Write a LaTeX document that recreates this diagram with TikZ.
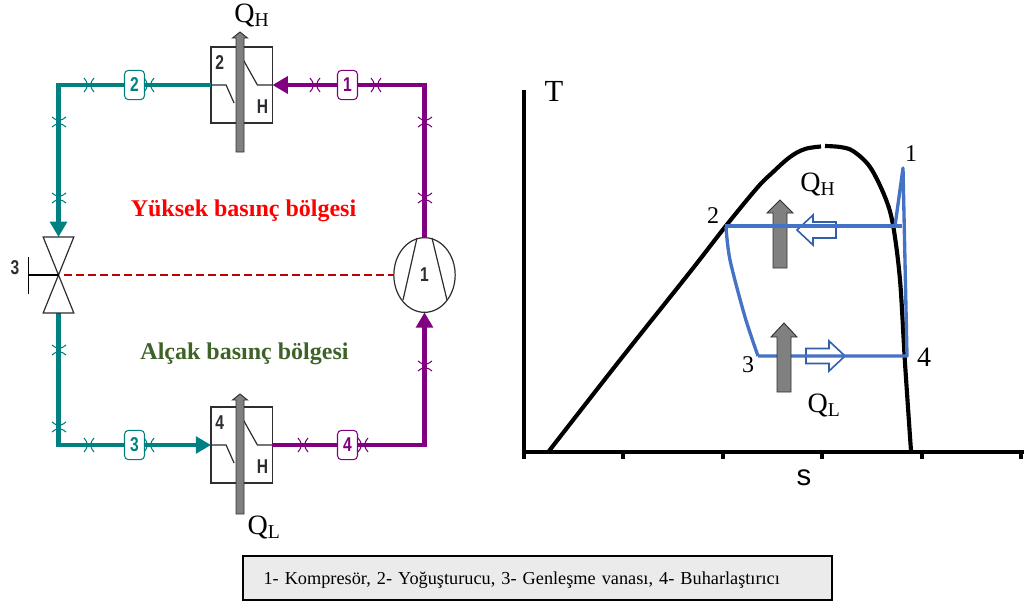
\documentclass[tikz,border=0pt]{standalone}
\usepackage{fontspec}
\setmainfont{Liberation Serif}
\setsansfont{Liberation Sans}
\newfontfamily\schfont[FakeStretch=0.78]{Liberation Sans}
\usetikzlibrary{arrows.meta,positioning,shapes.geometric}
\definecolor{pipeteal}  {RGB}{0,128,128}
\definecolor{pipepurple}{RGB}{128,0,128}
\definecolor{cyclblue}  {RGB}{68,114,196}
\definecolor{hollowblue}{RGB}{50,95,170}
\definecolor{hotred}    {RGB}{255,0,0}
\definecolor{coldgreen} {RGB}{62,98,40}
\definecolor{dashred}   {RGB}{192,0,0}
\definecolor{heatgray}  {RGB}{128,128,128}
\definecolor{heatedge}  {RGB}{50,50,50}
\definecolor{capgray}   {RGB}{235,235,235}
\definecolor{schink}    {RGB}{45,45,50}
\newcommand{\fs}[1]{\fontsize{#1}{#1}\selectfont}
% style, tail, angle, length, head length, half shaft, half head
\newcommand{\fatarr}[7]{%
  \draw[#1,shift={(#2)},rotate=#3] (0,-#6)--({#4-#5},-#6)--({#4-#5},-#7)--(#4,0)
    --({#4-#5},#7)--({#4-#5},#6)--(0,#6)--cycle;}
\tikzset{
  hxbox/.style={draw=schink,fill=white,line width=1pt,outer sep=0pt,inner sep=0pt,
    minimum width=46pt,minimum height=57pt},
  valvebox/.style={outer sep=0pt,inner sep=0pt,minimum width=23pt,minimum height=57pt},
  compbox/.style={draw=schink,fill=white,ellipse,line width=0.9pt,outer sep=0pt,inner sep=0pt,
    minimum width=46pt,minimum height=56pt},
  schlbl/.style={font=\schfont\bfseries\fs{15},text=schink,inner sep=0pt},
  tagbox/.style={draw=#1,fill=white,text=#1,rounded corners=3pt,line width=0.8pt,
    minimum width=15pt,minimum height=22pt,inner sep=0pt,font=\schfont\bfseries\fs{15}},
  pipet/.style={line width=3.7pt,color=pipeteal},
  pipep/.style={line width=3.7pt,color=pipepurple},
  pipearr/.style={-{Triangle[length=11.5pt,width=12.5pt]}},
  thinline/.style={draw=schink,line width=0.9pt},
  regionline/.style={line width=1.4pt,color=dashred,dash pattern=on 6pt off 3pt},
  region/.style={font=\bfseries\fs{18},inner sep=0pt},
  heat/.style={fill=heatgray,draw=heatedge,line width=0.7pt},
  hollow/.style={fill=white,draw=hollowblue,line width=1.2pt},
  qlbl/.style={font=\fs{21},inner sep=0pt},
  numlbl/.style={font=\fs{18},inner sep=0pt},
  domeline/.style={line width=3.1pt,color=black},
  cycline/.style={line width=2.5pt,color=cyclblue,line join=round},
  axisline/.style={line width=3pt,color=black},
  capbox/.style={draw=black,fill=capgray,line width=1.5pt,outer sep=0pt,inner ysep=0pt,
    inner xsep=15.75pt,text width=410.25pt,text height=13pt,text depth=3pt,
    minimum height=33pt,align=left,font=\fs{13.7}},
  pics/pinch/.style={code={
    \draw[line width=0.8pt] (-5,-7) to[out=-60,in=90] (-1.5,0) to[out=-90,in=60] (-5,7);
    \draw[line width=0.8pt] (5,-7) to[out=-120,in=90] (1.5,0) to[out=-90,in=120] (5,7);
  }},
}
\begin{document}
\begin{tikzpicture}[x=0.75pt,y=-0.75pt]
  \useasboundingbox (0,0) rectangle (1024,601);

  % refrigeration loop
  \node[hxbox](cond) at (241.75,85){};
  \node[hxbox,below=213pt of cond](evap){};
  \node[valvebox](valve) at (58.5,275){};
  \node[compbox](comp) at (424.5,275){};

  \draw[pipet,pipearr](cond.west) -| (valve.north);
  \draw[pipet,pipearr](valve.south) |- (evap.west);
  \draw[pipep,pipearr](comp.north) |- (cond.east);
  \draw[pipep,pipearr](evap.east) -| (comp.south);

  \foreach \px/\py/\pr/\pc in {89/85/0/pipeteal,149/85/0/pipeteal,59/122/90/pipeteal,59/198/90/pipeteal,
      59/350/90/pipeteal,59/427/90/pipeteal,89/445/0/pipeteal,149/445/0/pipeteal,
      315/85/0/pipepurple,376/85/0/pipepurple,425/122/90/pipepurple,425/198/90/pipepurple,
      303/445/0/pipepurple,363/445/0/pipepurple,425/366/90/pipepurple}
    \pic[rotate=\pr,color=\pc] at (\px,\py) {pinch};

  \node[tagbox=pipeteal](tagtwo) at (134.5,85){2};
  \node[tagbox=pipeteal](tagthree) at (134.5,445){3};
  \node[tagbox=pipepurple](tagone) at (347.5,85){1};
  \node[tagbox=pipepurple](tagfour) at (347.5,445){4};

  % inner coil of the two exchangers
  \foreach \hx in {cond,evap}{
    \draw[thinline](\hx.west) -- ++(15,0) -- ++(8,18);
    \draw[thinline](\hx.east) -- ++(-15,0) -- ++(-14,-25);
    \node[schlbl,above left=7pt and 3pt of \hx.south east](\hx H){H};
  }
  \node[schlbl,below right=6pt and 3pt of cond.north west](condnum){2};
  \node[schlbl,below right=6pt and 3pt of evap.north west](evapnum){4};
  \fatarr{heat}{240,152}{90}{120}{6}{4}{7.5}
  \fatarr{heat}{240,514}{90}{120}{6}{4}{7.5}

  \node[qlbl](qhigh) at (252,15){Q\textsubscript{H}};
  \node[qlbl](qlow) at (264,527){Q\textsubscript{L}};

  % valve and compressor
  \draw[thinline](valve.north west) -- (valve.north east) -- (valve.south west)
    -- (valve.south east) -- cycle;
  \draw[thinline,draw=black](valve.center) -- ++(-30,0) ++(0,-18) -- ++(0,37);
  \node[schlbl](valvenum) at (15,268){3};
  \draw[thinline]([shift={(-7.5,-37)}]comp.center) -- ([shift={(-21.5,25)}]comp.center);
  \draw[thinline]([shift={(7.5,-37)}]comp.center) -- ([shift={(22.5,25)}]comp.center);
  \node[schlbl](compnum) at (comp.center){1};
  \draw[regionline,shorten <=4pt](valve.center) -- (comp.west);

  \node[region,text=hotred](highreg) at (243.5,211){Yüksek basınç bölgesi};
  \node[region,text=coldgreen](lowreg) at (244.5,354){Alçak basınç bölgesi};

  % T-s chart
  \draw[axisline](524,90) -- (524,452) -- (1024,452);
  \foreach \tx in {524,623,723,822,922,1021}
    \draw[axisline](\tx,452) -- (\tx,458.5);
  \node[font=\fs{23},inner sep=0pt](taxis) at (554,91){T};
  \node[font=\sffamily\fs{22},inner sep=0pt](saxis) at (804,477.5){s};

  \draw[domeline] plot[smooth,tension=0.6] coordinates
    {(549,451) (620,360) (690,272) (725,227) (757,188) (772,173) (790,157) (805,149) (821,146.5)};
  \draw[domeline] plot[smooth,tension=0.55] coordinates
    {(825,146) (840,147) (853,151) (870,167) (885,197) (893,225) (900,280) (905,363) (911,451)};

  \fatarr{heat}{780,268}{90}{68}{13}{7}{13}
  \fatarr{hollow}{836,230}{180}{39}{16}{8}{15}
  \fatarr{hollow}{806,356}{0}{39}{16}{7.5}{15}

  \draw[cycline](725,226) -- (902,226);
  \draw[cycline](895,226) -- (903,168) -- (907,356) -- (758,356);
  \draw[cycline] plot[smooth,tension=0.5] coordinates {(726,227) (730,260) (745,317) (758,356)};
  \fatarr{heat}{784,392}{90}{69}{14}{7}{13}

  \node[qlbl](qhot) at (818,184){Q\textsubscript{H}};
  \node[qlbl](qcold) at (824,405){Q\textsubscript{L}};
  \node[numlbl](ptone) at (911,154){1};
  \node[numlbl](pttwo) at (713,216){2};
  \node[numlbl](ptthree) at (748,365){3};
  \node[numlbl,font=\fs{21}](ptfour) at (924,357){4};

  \node[capbox](legendbox) at (537,578){1- Kompresör, 2- Yoğuşturucu, 3- Genleşme vanası, 4- Buharlaştırıcı};
\end{tikzpicture}
\end{document}
